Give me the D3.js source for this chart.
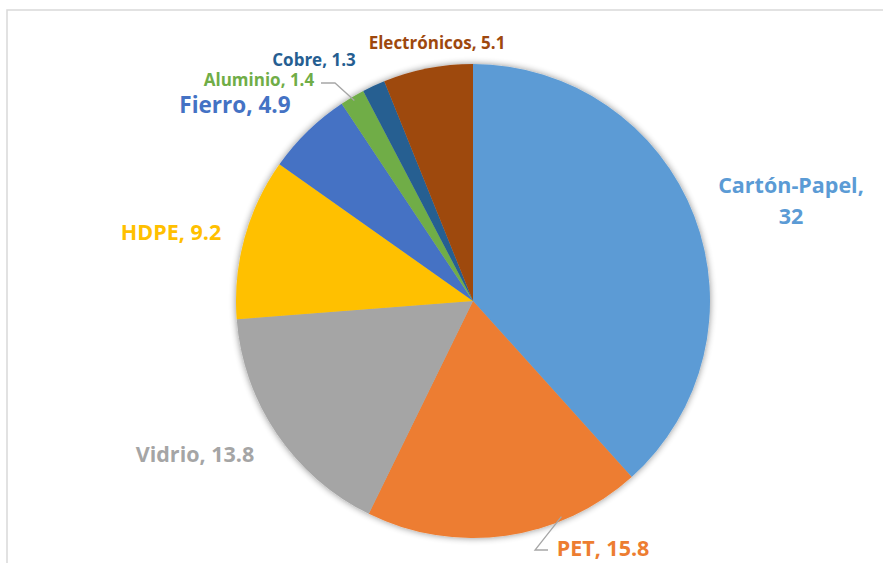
<!DOCTYPE html>
<html>
<head>
<meta charset="utf-8">
<script src="https://cdn.jsdelivr.net/npm/d3@7"></script>
<style>
	html, body { margin: 0; padding: 0; background: #fff; }
	svg { display: block; }
	text { font-family: "Open Sans", Lato, sans-serif; font-weight: bold; }
</style>
</head>
<body>
<svg id="chart" width="883" height="563"></svg>
<script>
const categories = ['Cartón-Papel', 'PET', 'Vidrio', 'HDPE', 'Fierro', 'Aluminio', 'Cobre', 'Electrónicos'];
const values = [32, 15.8, 13.8, 9.2, 4.9, 1.4, 1.3, 5.1];
const colors = ['#5B9BD5', '#ED7D31', '#A5A5A5', '#FFC000', '#4472C4', '#70AD47', '#255E91', '#9E480E'];

// label layout: anchor point, font size
const labelLayout = [
	{x: 791, y: 193, size: 21.5, lines: ['Cartón-Papel,', '32']},
	{x: 603, y: 556, size: 21.5},
	{x: 195, y: 462, size: 21.5},
	{x: 171, y: 240, size: 21.5},
	{x: 235, y: 113, size: 22.5},
	{x: 259, y: 86, size: 17},
	{x: 314, y: 66, size: 17},
	{x: 437, y: 49, size: 17},
];

const W = 883, H = 563;
const cx = 473, cy = 301, R = 237;

const svg = d3.select('#chart');

// chart border (runs past right/bottom edge)
svg.append('rect')
	.attr('x', 7).attr('y', 10)
	.attr('width', W + 10).attr('height', H + 10)
	.attr('fill', 'none')
	.attr('stroke', '#D9D9D9')
	.attr('stroke-width', 1.5);

const defs = svg.append('defs');
const shadow = defs.append('filter').attr('id', 'soft')
	.attr('x', '-10%').attr('y', '-10%').attr('width', '120%').attr('height', '120%');
shadow.append('feGaussianBlur').attr('in', 'SourceAlpha').attr('stdDeviation', 3.5).attr('result', 'b');
shadow.append('feComponentTransfer').attr('in', 'b').attr('result', 'c')
	.append('feFuncA').attr('type', 'linear').attr('slope', 0.45);
const merge = shadow.append('feMerge');
merge.append('feMergeNode').attr('in', 'c');
merge.append('feMergeNode').attr('in', 'SourceGraphic');

const pie = d3.pie().sort(null).value(d => d);
const arcs = pie(values);
const arc = d3.arc().innerRadius(0).outerRadius(R);

const g = svg.append('g')
	.attr('transform', `translate(${cx},${cy})`)
	.attr('filter', 'url(#soft)');

g.selectAll('path')
	.data(arcs)
	.join('path')
	.attr('d', arc)
	.attr('fill', (d, i) => colors[i]);

// leader lines
const outer = d3.arc().innerRadius(R - 4).outerRadius(R - 4);
const leaders = svg.append('g').attr('stroke', '#A6A6A6').attr('stroke-width', 1.3).attr('fill', 'none');

// PET leader
{
	const a = arcs[1];
	const mid = (a.startAngle + a.endAngle) / 2;
	const p = outer.centroid({startAngle: mid - 0.25, endAngle: mid - 0.25});
	const lb = labelLayout[1];
	leaders.append('polyline')
		.attr('points', [
			[cx + p[0], cy + p[1]],
			[lb.x - 68, lb.y - 6],
			[lb.x - 55, lb.y - 6]
		].map(q => q.join(',')).join(' '));
}
// Aluminio leader
{
	const a = arcs[5];
	const mid = (a.startAngle + a.endAngle) / 2;
	const p = outer.centroid({startAngle: mid, endAngle: mid});
	const lb = labelLayout[5];
	leaders.append('polyline')
		.attr('points', [
			[lb.x + 62, lb.y - 3],
			[lb.x + 76, lb.y - 3],
			[cx + p[0], cy + p[1]]
		].map(q => q.join(',')).join(' '));
}

// labels
const labels = svg.append('g');
categories.forEach((c, i) => {
	const lb = labelLayout[i];
	const t = labels.append('text')
		.attr('x', lb.x).attr('y', lb.y)
		.attr('text-anchor', 'middle')
		.attr('font-size', lb.size)
		.attr('fill', colors[i]);
	const lines = lb.lines || [`${c}, ${values[i]}`];
	lines.forEach((ln, j) => {
		t.append('tspan').attr('x', lb.x).attr('dy', j === 0 ? 0 : 31).text(ln);
	});
});
</script>
</body>
</html>
